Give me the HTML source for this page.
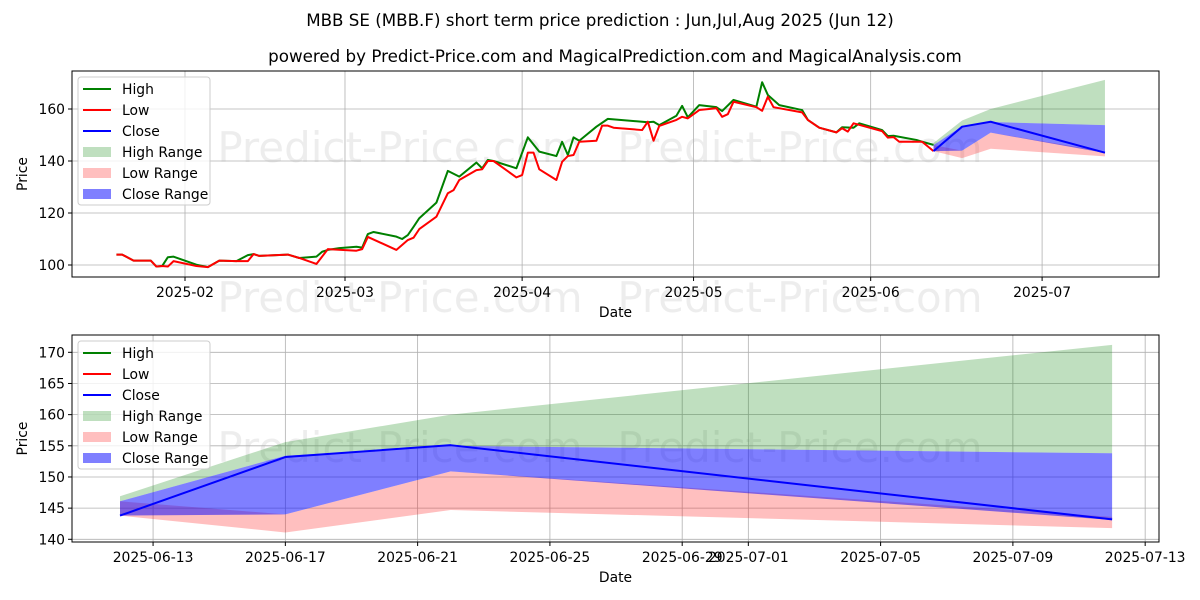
<!DOCTYPE html>
<html><head><meta charset="utf-8"><style>
body{margin:0;background:#fff}
svg{display:block;font-family:"DejaVu Sans","Liberation Sans",sans-serif}
</style></head><body>
<svg id="chart" width="1200" height="600" viewBox="0 0 1200 600" xmlns="http://www.w3.org/2000/svg">
<rect width="1200" height="600" fill="#fff"/>
<text x="600" y="26" text-anchor="middle" font-size="16.7">MBB SE (MBB.F) short term price prediction : Jun,Jul,Aug 2025 (Jun 12)</text>
<text x="615" y="62" text-anchor="middle" font-size="16.7">powered by Predict-Price.com and MagicalPrediction.com and MagicalAnalysis.com</text>
<g id="top"></g>
<g id="bot"></g>
</svg>
<script>
const highDates=["2025-01-20","2025-01-21","2025-01-23","2025-01-26","2025-01-27","2025-01-28","2025-01-29","2025-01-30","2025-02-03","2025-02-05","2025-02-07","2025-02-10","2025-02-12","2025-02-13","2025-02-14","2025-02-19","2025-02-21","2025-02-24","2025-02-25","2025-02-26","2025-02-28","2025-03-03","2025-03-04","2025-03-05","2025-03-06","2025-03-10","2025-03-11","2025-03-12","2025-03-13","2025-03-14","2025-03-17","2025-03-19","2025-03-21","2025-03-24","2025-03-25","2025-03-26","2025-03-27","2025-03-31","2025-04-02","2025-04-04","2025-04-07","2025-04-08","2025-04-09","2025-04-10","2025-04-11","2025-04-14","2025-04-16","2025-04-23","2025-04-24","2025-04-25","2025-04-28","2025-04-29","2025-04-30","2025-05-02","2025-05-05","2025-05-06","2025-05-08","2025-05-12","2025-05-13","2025-05-14","2025-05-16","2025-05-20","2025-05-21","2025-05-23","2025-05-26","2025-05-27","2025-05-29","2025-05-30","2025-06-03","2025-06-04","2025-06-05","2025-06-09","2025-06-10","2025-06-12"];
const highValues=[104,104,101.7,101.7,99.4,99.6,103,103.2,100.1,99.2,101.7,101.5,103.8,104.2,103.5,104,102.7,103.2,105.1,105.8,106.5,107,106.7,111.9,112.7,110.9,110,111.5,114.7,118,124,136.2,134,139.4,137.2,140.4,140,137.2,149.1,143.6,141.9,147.4,142.3,149.1,147.8,153.2,156.2,154.9,155.1,153.8,157.4,161.2,156.8,161.5,160.7,159.2,163.5,160.9,170.3,165.4,161.5,159.6,155.8,152.8,151,153,152.8,154.5,151.9,149.6,149.7,148.1,147.4,146.2];
const lowDates=["2025-01-20","2025-01-21","2025-01-23","2025-01-26","2025-01-27","2025-01-28","2025-01-29","2025-01-30","2025-02-03","2025-02-05","2025-02-07","2025-02-10","2025-02-12","2025-02-13","2025-02-14","2025-02-19","2025-02-21","2025-02-24","2025-02-26","2025-03-03","2025-03-04","2025-03-05","2025-03-10","2025-03-12","2025-03-13","2025-03-14","2025-03-17","2025-03-19","2025-03-20","2025-03-21","2025-03-24","2025-03-25","2025-03-26","2025-03-27","2025-03-31","2025-04-01","2025-04-02","2025-04-03","2025-04-04","2025-04-07","2025-04-08","2025-04-09","2025-04-10","2025-04-11","2025-04-14","2025-04-15","2025-04-16","2025-04-17","2025-04-22","2025-04-23","2025-04-24","2025-04-25","2025-04-28","2025-04-29","2025-04-30","2025-05-02","2025-05-05","2025-05-06","2025-05-07","2025-05-08","2025-05-12","2025-05-13","2025-05-14","2025-05-15","2025-05-20","2025-05-21","2025-05-23","2025-05-26","2025-05-27","2025-05-28","2025-05-29","2025-06-03","2025-06-04","2025-06-05","2025-06-06","2025-06-10","2025-06-12"];
const lowValues=[104,104,101.7,101.7,99.4,99.6,99.4,101.5,99.6,99.2,101.7,101.5,101.5,104.2,103.5,104,102.7,100.4,106.1,105.5,106.1,110.8,105.8,109.6,110.5,113.8,118.6,127.6,128.8,132.7,136.5,136.8,140,140,133.7,134.6,143.2,143.2,136.8,132.7,139.7,141.9,142.3,147.4,147.8,153.6,153.6,152.8,151.9,155.1,147.8,153.5,155.8,157,156.4,159.6,160.3,157,158,162.8,160.7,159.3,164.7,160.7,158.7,155.8,152.8,151,152.6,151.3,154.5,151.5,149,149.2,147.4,147.4,143.8];
const fcDates=["2025-06-12","2025-06-17","2025-06-22","2025-07-12"];
const closeValues=[143.8,153.2,155.1,143.2];
const highRangeUpper=[146.9,155.6,160.0,171.2];
const highRangeLower=[146.1,153.4,155.0,153.8];
const lowRangeUpper=[146.1,144.0,150.9,143.6];
const lowRangeLower=[143.8,141.1,144.7,141.8];
const closeRangeUpper=[146.1,153.4,155.0,153.8];
const closeRangeLower=[143.8,144.0,150.9,143.1];
const topYTicks=[100,120,140,160];
const topXTicks=["2025-02-01","2025-03-01","2025-04-01","2025-05-01","2025-06-01","2025-07-01"];
const topXLabels=["2025-02","2025-03","2025-04","2025-05","2025-06","2025-07"];
const botYTicks=[140,145,150,155,160,165,170];
const botXTicks=["2025-06-13","2025-06-17","2025-06-21","2025-06-25","2025-06-29","2025-07-01","2025-07-05","2025-07-09","2025-07-13"];

const NS="http://www.w3.org/2000/svg";
const DAY=86400000;
function dnum(s){return Date.parse(s+"T00:00:00Z")/DAY;}
function mk(p,tag,attrs,name){const e=document.createElementNS(NS,tag);for(const k in attrs)e.setAttribute(k,attrs[k]);


p.appendChild(e);return e;}

function panel(g,cfg){
  const {L,R,T,B,x,y}=cfg;
  cfg.wm.forEach(w=>{const t=mk(g,'text',{x:w[0],y:w[1],'font-size':42,fill:'#000','fill-opacity':0.07,'text-anchor':'middle'},'watermark');t.textContent='Predict-Price.com';});
  cfg.xt.forEach(d=>{mk(g,'line',{x1:x(dnum(d)),x2:x(dnum(d)),y1:T,y2:B,stroke:'#b0b0b0','stroke-width':0.8},'x-gridline');});
  cfg.yt.forEach(v=>{mk(g,'line',{x1:L,x2:R,y1:y(v),y2:y(v),stroke:'#b0b0b0','stroke-width':0.8},'y-gridline');});
  const fx=fcDates.map(dnum);
  function band(up,lo,col,op,name){let d='M'+fx.map((t,i)=>x(t)+','+y(up[i])).join('L');
    for(let i=fx.length-1;i>=0;i--)d+='L'+x(fx[i])+','+y(lo[i]);
    mk(g,'path',{d:d+'Z',fill:col,'fill-opacity':op},name);}
  band(highRangeUpper,highRangeLower,'#008000',0.25,'high-range-band');
  band(lowRangeUpper,lowRangeLower,'#ff0000',0.25,'low-range-band');
  band(closeRangeUpper,closeRangeLower,'#0000ff',0.5,'close-range-band');
  function line(ds,vs,col,name){mk(g,'polyline',{points:ds.map((d,i)=>x(dnum(d))+','+y(vs[i])).join(' '),fill:'none',stroke:col,'stroke-width':2,'stroke-linejoin':'round'},name);}
  if(cfg.hist){line(highDates,highValues,'#008000','high-line');line(lowDates,lowValues,'#ff0000','low-line');}
  line(fcDates,closeValues,'#0000ff','close-line');
  mk(g,'rect',{x:L,y:T,width:R-L,height:B-T,fill:'none',stroke:'#000','stroke-width':1},'axes-frame');
  cfg.xt.forEach((d,i)=>{const xx=x(dnum(d));mk(g,'line',{x1:xx,x2:xx,y1:B,y2:B+4,stroke:'#000'},'x-tick');
    const t=mk(g,'text',{x:xx,y:B+20,'font-size':13.9,'text-anchor':'middle'},'x-tick-label');t.textContent=cfg.xl[i];});
  cfg.yt.forEach(v=>{mk(g,'line',{x1:L-4,x2:L,y1:y(v),y2:y(v),stroke:'#000'},'y-tick');
    const t=mk(g,'text',{x:L-7,y:y(v)+5,'font-size':13.9,'text-anchor':'end'},'y-tick-label');t.textContent=v;});
  let t=mk(g,'text',{x:(L+R)/2,y:B+40,'font-size':13.9,'text-anchor':'middle'},'x-axis-title');t.textContent='Date';
  t=mk(g,'text',{x:0,y:0,'font-size':13.9,'text-anchor':'middle',transform:`translate(27,${(T+B)/2}) rotate(-90)`},'y-axis-title');t.textContent='Price';
  const lg=mk(g,'g',{},'legend');
  mk(lg,'rect',{x:L+6,y:T+6,width:132,height:128,rx:3,fill:'#fff','fill-opacity':0.8,stroke:'#ccc'},'legend-box');
  const items=[['High','#008000','l'],['Low','#ff0000','l'],['Close','#0000ff','l'],['High Range','rgba(0,128,0,0.25)','p'],['Low Range','rgba(255,0,0,0.25)','p'],['Close Range','rgba(0,0,255,0.5)','p']];
  items.forEach((it,i)=>{const cy=T+18+i*21;
    if(it[2]=='l')mk(lg,'line',{x1:L+11,x2:L+39,y1:cy,y2:cy,stroke:it[1],'stroke-width':2},'legend-swatch');
    else mk(lg,'rect',{x:L+11,y:cy-5,width:28,height:10,fill:it[1]},'legend-swatch');
    const tt=mk(lg,'text',{x:L+50,y:cy+5,'font-size':13.9},'legend-entry');tt.textContent=it[0];});
}
const d0=dnum("2025-02-01");
panel(document.getElementById('top'),{L:72,R:1159,T:71,B:277,hist:true,
  x:t=>185+(t-d0)*5.714, y:v=>265-(v-100)*2.6,
  xt:topXTicks,xl:topXLabels,yt:topYTicks,wm:[[400,162],[400,312],[800,162],[800,312]]});
const d1=dnum("2025-06-12");
panel(document.getElementById('bot'),{L:72,R:1159,T:335,B:542,hist:false,
  x:t=>120+(t-d1)*33.07, y:v=>539.3-(v-140)*6.233,
  xt:botXTicks,xl:botXTicks,yt:botYTicks,wm:[[400,462],[800,462]]});
</script>
</body></html>
